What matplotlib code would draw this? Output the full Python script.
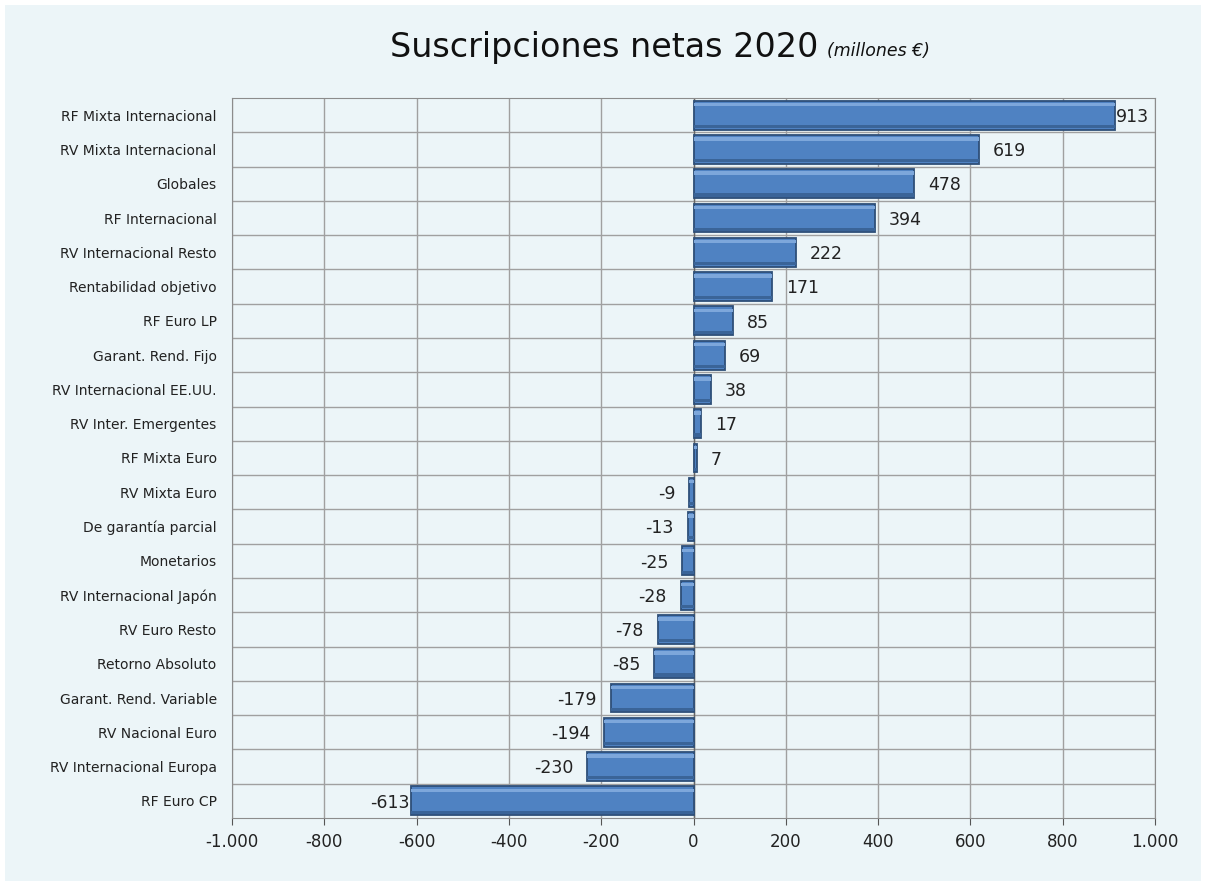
import matplotlib.pyplot as plt
from matplotlib.patches import Rectangle
from matplotlib.ticker import FuncFormatter

plt.rcParams['font.family'] = ['DejaVu Sans']

categorias = ['RF Mixta Internacional', 'RV Mixta Internacional', 'Globales',
              'RF Internacional', 'RV Internacional Resto', 'Rentabilidad objetivo',
              'RF Euro LP', 'Garant. Rend. Fijo', 'RV Internacional EE.UU.',
              'RV Inter. Emergentes', 'RF Mixta Euro', 'RV Mixta Euro',
              'De garantía parcial', 'Monetarios', 'RV Internacional Japón',
              'RV Euro Resto', 'Retorno Absoluto', 'Garant. Rend. Variable',
              'RV Nacional Euro', 'RV Internacional Europa', 'RF Euro CP']
valores = [913, 619, 478, 394, 222, 171, 85, 69, 38, 17, 7, -9, -13, -25, -28,
           -78, -85, -179, -194, -230, -613]

fondo = '#ECF5F8'
fig = plt.figure(figsize=(12.06, 8.86), dpi=100, facecolor='white')
fig.patches.append(Rectangle((0.004, 0.006), 0.992, 0.988, transform=fig.transFigure,
                             facecolor=fondo, edgecolor='none', zorder=-10))
ax = fig.add_axes([232/1206, 1 - 818/886, (1155-232)/1206, (818-98)/886])
ax.set_facecolor(fondo)

y = list(range(len(categorias)))
alto = 0.84
# barra principal con borde oscuro (efecto bisel)
ax.barh(y, valores, height=alto, color='#4F82C2', edgecolor='#2E4F78', linewidth=1.3, zorder=3)
# brillo superior
ax.barh([i - alto/2 + 0.11 for i in y], valores, height=0.1, color='#7DA7DB',
        edgecolor='none', zorder=4)
# sombra inferior
ax.barh([i + alto/2 - 0.09 for i in y], valores, height=0.09, color='#3A6498',
        edgecolor='none', zorder=4)

for i, v in enumerate(valores):
    if v >= 0:
        dx = 3 if v > 900 else 30
        ax.text(v + dx, i + 0.05, f'{v}', ha='left', va='center', fontsize=12.5, color='#222222')
    else:
        dx = 2 if v < -600 else 30
        ax.text(v - dx, i + 0.05, f'{v}', ha='right', va='center', fontsize=12.5,
                color='#222222')

ax.set_xlim(-1000, 1000)
ax.set_ylim(len(categorias) - 0.5, -0.5)
ax.set_xticks(range(-1000, 1001, 200))
ax.xaxis.set_major_formatter(FuncFormatter(lambda x, p: f'{int(x):,}'.replace(',', '.')))
ax.set_yticks(y)
ax.set_yticklabels(categorias, fontsize=10, color='#222222')
ax.tick_params(axis='y', length=0, pad=11)
ax.tick_params(axis='x', labelsize=12, length=5, color='#555555', pad=6, labelcolor='#222222')

# rejilla: verticales en los ticks, horizontales entre categorías
ax.set_yticks([i + 0.5 for i in y[:-1]], minor=True)
ax.tick_params(axis='y', which='minor', length=0)
ax.grid(axis='x', color='#A0A0A0', linewidth=1, zorder=0)
ax.grid(axis='y', which='minor', color='#A0A0A0', linewidth=1, zorder=0)
ax.axvline(0, color='#666666', linewidth=1, zorder=2)
for s in ax.spines.values():
    s.set_color('#8C8C8C')

fig.text(0.679, 0.946, 'Suscripciones netas 2020', ha='right', va='center', fontsize=24,
         color='#111111')
fig.text(0.686, 0.943, '(millones €)', ha='left', va='center', fontsize=12.5,
         style='italic', color='#111111')

fig.savefig('out.png', dpi=100, facecolor='white')
